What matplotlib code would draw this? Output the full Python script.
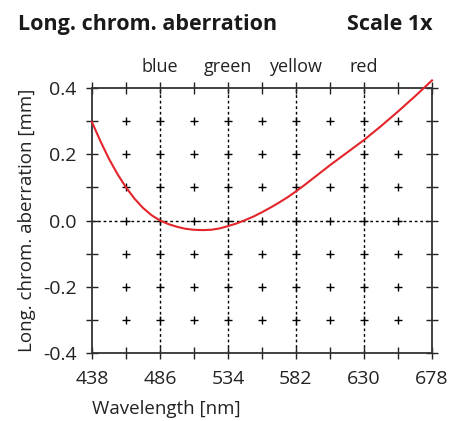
import matplotlib.pyplot as plt
import numpy as np

# Data
wavelength = [438, 444, 450, 456, 462, 468, 474, 480, 486, 492, 498, 504,
              510, 516, 522, 528, 534, 540, 546, 552, 558, 564, 570, 576,
              582, 588, 594, 600, 606, 612, 618, 624, 630, 636, 642, 648,
              654, 660, 666, 672, 678]
aberration = [0.297, 0.239, 0.186, 0.140, 0.100, 0.066, 0.038, 0.016, 0.000,
              -0.011, -0.019, -0.025, -0.028, -0.029, -0.028, -0.024, -0.017,
              -0.009, 0.001, 0.012, 0.025, 0.039, 0.054, 0.070, 0.088, 0.107,
              0.127, 0.147, 0.167, 0.186, 0.205, 0.224, 0.243, 0.264, 0.285,
              0.307, 0.329, 0.352, 0.375, 0.399, 0.423]

x_ticks = [438, 462, 486, 510, 534, 558, 582, 606, 630, 654, 678]
x_labels = ['438', '', '486', '', '534', '', '582', '', '630', '', '678']
y_ticks = [-0.4, -0.3, -0.2, -0.1, 0.0, 0.1, 0.2, 0.3, 0.4]
y_labels = ['-0.4', '', '-0.2', '', '0.0', '', '0.2', '', '0.4']

color_lines = [486, 534, 582, 630]
color_names = ['blue', 'green', 'yellow', 'red']

plt.rcParams['font.family'] = ['Open Sans', 'DejaVu Sans']
plt.rcParams['axes.unicode_minus'] = False
text_color = '#222222'

fig = plt.figure(figsize=(4.56, 4.21), dpi=100)
ax = fig.add_axes([92/456, 1 - 353/421, 340/456, 265/421])

ax.set_xlim(438, 678)
ax.set_ylim(-0.4, 0.4)

# dotted reference lines
for xv in color_lines:
    ax.axvline(xv, color='black', lw=1, linestyle=(0, (2, 2)), zorder=1)
ax.axhline(0, color='black', lw=1, linestyle=(0, (2, 2)), zorder=1)

# plus markers at interior grid points
gx, gy = np.meshgrid(x_ticks[1:-1], y_ticks[1:-1])
ax.plot(gx.ravel(), gy.ravel(), '+', color='black', ms=6, mew=1, zorder=2)

# curve
ax.plot(wavelength, aberration, color='#e3242b', lw=1.5, zorder=3, clip_on=False)

ax.set_xticks(x_ticks)
ax.set_xticklabels(x_labels)
ax.set_yticks(y_ticks)
ax.set_yticklabels(y_labels)
ax.tick_params(direction='inout', length=8, width=1, top=True, right=True,
               labelsize=14, colors=text_color)
ax.tick_params(axis='x', pad=8)
ax.tick_params(axis='y', pad=7)
for s in ax.spines.values():
    s.set_linewidth(1.3)
    s.set_color('#333333')

# color names above the plot
for xv, name in zip(color_lines, color_names):
    ax.text(xv, 1.06, name, transform=ax.get_xaxis_transform(),
            ha='center', va='baseline', fontsize=13, color=text_color)

ax.set_ylabel('Long. chrom. aberration [mm]', fontsize=13.5, color=text_color,
              labelpad=5)
ax.set_xlabel('Wavelength [nm]', fontsize=13.5, color=text_color, loc='left',
              labelpad=9)

fig.text(18/456, 1 - 30/421, 'Long. chrom. aberration', fontsize=15.5,
         fontweight='bold', color='#1a1a1a', ha='left', va='baseline')
fig.text(433/456, 1 - 30/421, 'Scale 1x', fontsize=15.5,
         fontweight='bold', color='#1a1a1a', ha='right', va='baseline')

plt.savefig('out.png', dpi=100)
